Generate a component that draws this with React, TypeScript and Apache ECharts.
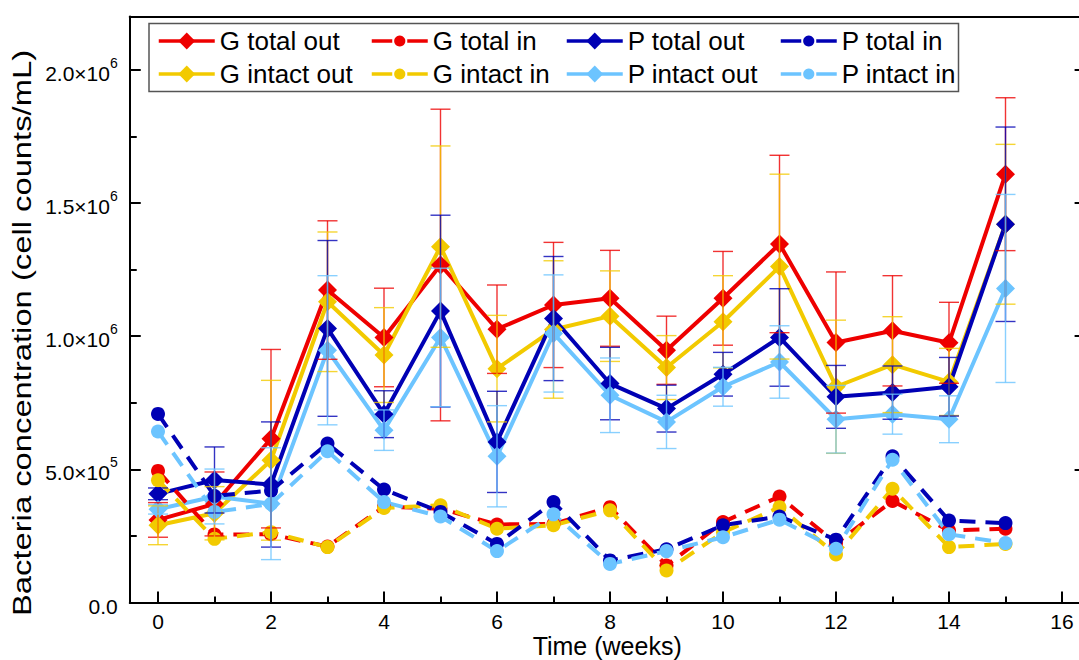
import React, { useEffect, useRef } from 'react';
import * as echarts from 'echarts';

const FONT = '"Liberation Sans", Arial, Helvetica, sans-serif';

const weeks = [0, 1, 2, 3, 4, 5, 6, 7, 8, 9, 10, 11, 12, 13, 14, 15];

const gTotalOut = [310000, 370000, 615000, 1173000, 995000, 1267000, 1026000, 1117000, 1142000, 947000, 1142000, 1346000, 976000, 1020000, 975000, 1608000];
const gTotalOutErr = [65000, 120000, 335000, 260000, 185000, 585000, 166000, 235000, 180000, 128000, 176000, 333000, 265000, 207000, 152000, 287000];

const gIntactOut = [290000, 335000, 534000, 1129000, 929000, 1336000, 878000, 1025000, 1075000, 882000, 1054000, 1261000, 810000, 893000, 828000, 1420000];
const gIntactOutErr = [73000, 100000, 300000, 262000, 178000, 378000, 200000, 258000, 170000, 120000, 173000, 347000, 250000, 180000, 126000, 300000];

const pTotalOut = [408000, 460000, 443000, 1029000, 707000, 1094000, 603000, 1066000, 822000, 728000, 857000, 995000, 772000, 788000, 810000, 1420000];
const pTotalOutErr = [22000, 124000, 235000, 330000, 88000, 360000, 190000, 233000, 136000, 88000, 82000, 183000, 118000, 100000, 110000, 365000];

const pIntactOut = [350000, 398000, 371000, 947000, 647000, 995000, 549000, 1010000, 778000, 678000, 810000, 903000, 688000, 707000, 688000, 1179000];
const pIntactOutErr = [18000, 103000, 210000, 280000, 76000, 260000, 190000, 220000, 140000, 100000, 73000, 136000, 127000, 75000, 88000, 353000];

const gTotalIn = [494000, 255000, 256000, 210000, 360000, 352000, 293000, 295000, 358000, 139000, 302000, 398000, 222000, 381000, 270000, 277000];
const gIntactIn = [459000, 239000, 264000, 208000, 355000, 365000, 277000, 290000, 346000, 120000, 264000, 358000, 180000, 427000, 208000, 220000];
const pTotalIn = [708000, 400000, 420000, 597000, 424000, 340000, 220000, 377000, 158000, 200000, 290000, 323000, 236000, 549000, 308000, 298000];
const pIntactIn = [642000, 340000, 370000, 568000, 377000, 323000, 193000, 331000, 145000, 193000, 245000, 311000, 202000, 536000, 256000, 223000];

const xMajorTicks = [0, 2, 4, 6, 8, 10, 12, 14, 16];
const xMinorTicks = [1, 3, 5, 7, 9, 11, 13, 15];
const yMajorTicks = [0, 500000, 1000000, 1500000, 2000000];
const yMinorTicks = [250000, 750000, 1250000, 1750000];
const yTickMantissa = ['0.0', '5.0×10', '1.0×10', '1.5×10', '2.0×10'];
const yTickExponent = ['', '5', '6', '6', '6'];

const C_RED = '#EE0000';
const C_YEL = '#F2CA00';
const C_NAVY = '#0000B4';
const C_LBLUE = '#6CC4FF';

const X_MIN = -0.5;
const X_MAX = 16.4;
const Y_MIN = 0;
const Y_MAX = 2200000;

function lineSeries(name: string, vals: number[], color: string, dashed: boolean) {
  return {
    type: 'line',
    name,
    data: weeks.map((w, i) => [w, vals[i]]),
    symbol: dashed ? 'circle' : 'diamond',
    symbolSize: dashed ? 14 : 19,
    lineStyle: { color, width: 4, type: dashed ? [16, 10] : 'solid' },
    itemStyle: { color },
    emphasis: { disabled: true },
    silent: true,
    z: 2,
  };
}

function errSeries(name: string, vals: number[], errs: number[], color: string) {
  return {
    type: 'custom',
    name: name + ' error',
    data: weeks.map((w, i) => [w, vals[i] - errs[i], vals[i] + errs[i]]),
    encode: { x: 0, y: [1, 2] },
    silent: true,
    z: 3,
    renderItem: (params: any, api: any) => {
      const x = api.value(0);
      const lo = api.coord([x, api.value(1)]);
      const hi = api.coord([x, api.value(2)]);
      const hw = 10;
      const style = { stroke: color, lineWidth: 1.4, opacity: 0.8 };
      return {
        type: 'group',
        children: [
          { type: 'line', shape: { x1: lo[0], y1: lo[1], x2: hi[0], y2: hi[1] }, style },
          { type: 'line', shape: { x1: lo[0] - hw, y1: lo[1], x2: lo[0] + hw, y2: lo[1] }, style },
          { type: 'line', shape: { x1: hi[0] - hw, y1: hi[1], x2: hi[0] + hw, y2: hi[1] }, style },
        ],
      };
    },
  };
}

const legendText = { fontSize: 26, fontFamily: FONT, color: '#000', lineHeight: 26 };

function legendCol(names: string[], left: number, dashed: boolean) {
  return {
    data: names,
    orient: 'vertical',
    left,
    top: 23,
    itemWidth: 56,
    itemHeight: dashed ? 14 : 21,
    itemGap: 7,
    selectedMode: false,
    textStyle: legendText,
    lineStyle: dashed ? { width: 3.5, type: [20.5, 15] } : { width: 3.5 },
    z: 5,
  };
}

const blackLine = { color: '#000', width: 2 };

const option: any = {
  animation: false,
  backgroundColor: '#fff',
  grid: { left: 129.75, top: 16.5, width: 954.85, height: 586, containLabel: false, outerBoundsMode: 'none' },
  xAxis: [
    {
      type: 'value', min: X_MIN, max: X_MAX, position: 'bottom',
      axisLine: { onZero: false, lineStyle: blackLine },
      axisTick: { inside: true, length: 11, customValues: xMajorTicks, lineStyle: blackLine },
      axisLabel: { customValues: xMajorTicks, fontSize: 21, fontFamily: FONT, color: '#000', margin: 8 },
      splitLine: { show: false },
      name: 'Time (weeks)', nameLocation: 'middle', nameGap: 31, nameMoveOverlap: false,
      nameTextStyle: { fontSize: 25, fontFamily: FONT, color: '#000', lineHeight: 25 },
    },
    {
      type: 'value', min: X_MIN, max: X_MAX, position: 'bottom',
      axisLine: { show: false, onZero: false },
      axisTick: { inside: true, length: 6, customValues: xMinorTicks, lineStyle: blackLine },
      axisLabel: { show: false },
      splitLine: { show: false },
    },
    {
      type: 'value', min: X_MIN, max: X_MAX, position: 'top',
      axisLine: { show: true, onZero: false, lineStyle: blackLine },
      axisTick: { show: false },
      axisLabel: { show: false },
      splitLine: { show: false },
    },
  ],
  yAxis: [
    {
      type: 'value', min: Y_MIN, max: Y_MAX, position: 'left',
      axisLine: { onZero: false, lineStyle: blackLine },
      axisTick: { inside: true, length: 11, customValues: yMajorTicks, lineStyle: blackLine },
      axisLabel: {
        customValues: yMajorTicks,
        margin: 12,
        formatter: (v: number) => {
          const i = yMajorTicks.indexOf(v);
          if (i < 0) return '';
          return yTickExponent[i] ? `{m|${yTickMantissa[i]}}{s|${yTickExponent[i]}}` : `{m|${yTickMantissa[i]}}`;
        },
        rich: {
          m: { fontSize: 21, fontFamily: FONT, color: '#000', lineHeight: 28, verticalAlign: 'bottom' },
          s: { fontSize: 14, fontFamily: FONT, color: '#000', lineHeight: 14, verticalAlign: 'top' },
        },
      },
      splitLine: { show: false },
    },
    {
      type: 'value', min: Y_MIN, max: Y_MAX, position: 'left',
      axisLine: { show: false, onZero: false },
      axisTick: { inside: true, length: 7, customValues: yMinorTicks, lineStyle: blackLine },
      axisLabel: { show: false },
      splitLine: { show: false },
    },
    {
      type: 'value', min: Y_MIN, max: Y_MAX, position: 'right',
      axisLine: { show: true, onZero: false, lineStyle: blackLine },
      axisTick: { inside: true, length: 10, customValues: yMajorTicks, lineStyle: blackLine },
      axisLabel: { show: false },
      splitLine: { show: false },
    },
  ],
  legend: [
    legendCol(['G total out', 'G intact out'], 152, false),
    legendCol(['G total in', 'G intact in'], 365, true),
    legendCol(['P total out', 'P intact out'], 560, false),
    legendCol(['P total in', 'P intact in'], 774, true),
  ],
  graphic: [
    {
      type: 'rect', z: 3,
      shape: { x: 149, y: 23.5, width: 809.5, height: 68 },
      style: { fill: '#fff', stroke: '#555', lineWidth: 1.5 },
    },
    {
      type: 'text', x: 22, y: 333, rotation: Math.PI / 2, scaleX: 1.26,
      style: {
        text: 'Bacteria concentration (cell counts/mL)',
        fontSize: 26, fontFamily: FONT, fill: '#000', align: 'center', verticalAlign: 'middle',
      },
    },
  ],
  series: [
    lineSeries('G total out', gTotalOut, C_RED, false),
    lineSeries('G intact out', gIntactOut, C_YEL, false),
    lineSeries('P total out', pTotalOut, C_NAVY, false),
    lineSeries('P intact out', pIntactOut, C_LBLUE, false),
    lineSeries('G total in', gTotalIn, C_RED, true),
    lineSeries('G intact in', gIntactIn, C_YEL, true),
    lineSeries('P total in', pTotalIn, C_NAVY, true),
    lineSeries('P intact in', pIntactIn, C_LBLUE, true),
    errSeries('G total out', gTotalOut, gTotalOutErr, C_RED),
    errSeries('G intact out', gIntactOut, gIntactOutErr, C_YEL),
    errSeries('P total out', pTotalOut, pTotalOutErr, C_NAVY),
    errSeries('P intact out', pIntactOut, pIntactOutErr, C_LBLUE),
  ],
};

export default function App() {
  const ref = useRef<HTMLDivElement>(null);
  useEffect(() => {
    if (!ref.current) return;
    const chart = echarts.init(ref.current, null, { renderer: 'svg' });
    chart.setOption(option);
    return () => chart.dispose();
  }, []);
  return (
    <div
      ref={ref}
      style={{ position: 'absolute', left: 0, top: 0, width: 1079, height: 660, background: '#fff' }}
    />
  );
}
